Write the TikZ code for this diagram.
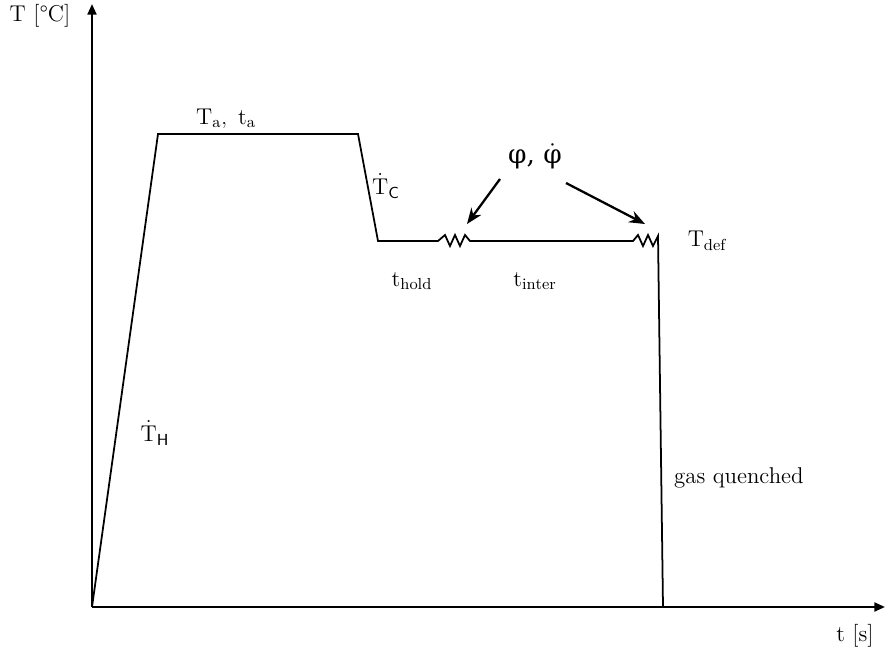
\documentclass[tikz,border=0pt]{standalone}
\usepackage{fontspec}
\newfontfamily\greekfont{DejaVu Serif}
\usetikzlibrary{arrows.meta}
\begin{document}
\begin{tikzpicture}[x=0.02cm,y=-0.02cm,
  axis/.style={line width=1.3pt,-{Triangle[length=6pt,width=5pt]}},
  curve/.style={line width=1pt,line join=miter},
  pointer/.style={line width=1.3pt,-{Stealth[length=9pt,width=7pt]}},
  lbl/.style={font=\fontsize{13}{15}\selectfont}]
  \useasboundingbox (0,0) rectangle (885,652);
  % axes
  \coordinate (o) at (92,607);
  \coordinate (ytip) at (92,4);
  \coordinate (xtip) at (885,607);
  \draw[axis] (o) -- (ytip);
  \draw[axis] (o) -- (xtip);
  \node[lbl] (tname) at (40,16) {T [°C]};
  \node[lbl] (sname) at (855,636) {t [s]};
  % temperature path
  \coordinate (heat) at (158,134);
  \coordinate (anneal) at (358,134);
  \coordinate (cool) at (378,241);
  \coordinate (zz1) at (438,241);
  \coordinate (zz1end) at (470,241);
  \coordinate (zz2) at (633,241);
  \coordinate (zz2end) at (658,236);
  \coordinate (quench) at (663,607);
  \draw[curve] (o) -- (heat) -- (anneal) -- (cool) -- (zz1)
    -- ++(7,-6) -- ++(5,11) -- ++(5,-11) -- ++(5,11) -- ++(5,-11) -- (zz1end)
    -- (zz2) -- ++(5,-6) -- ++(5,11) -- ++(5,-11) -- ++(5,11) -- (zz2end) -- (quench);
  % labels
  \node[lbl] (ta) at (226,119) {$\mathrm{T_a},\ \mathrm{t_a}$};
  \node[lbl] (tc) at (386,186) {$\dot{\mathrm{T}}_{\mathsf{C}}$};
  \node[lbl] (th) at (155,433) {$\dot{\mathrm{T}}_{\mathsf{H}}$};
  \node[lbl] (thold) at (412,281) {$\mathrm{t_{hold}}$};
  \node[lbl] (tinter) at (535,281) {$\mathrm{t_{inter}}$};
  \node[lbl] (tdef) at (707,241) {$\mathrm{T_{def}}$};
  \node[lbl,anchor=west] (gas) at (668,478) {gas quenched};
  \node[font=\fontsize{15}{17}\selectfont] (phi) at (535,156) {\greekfont φ,\ \(\dot{\mbox{\greekfont φ}}\)};
  % deformation pointers
  \coordinate (def1) at (467,224);
  \coordinate (def2) at (645,224);
  \draw[pointer] (500,179) -- (def1);
  \draw[pointer] (566,183) -- (def2);
\end{tikzpicture}
\end{document}
